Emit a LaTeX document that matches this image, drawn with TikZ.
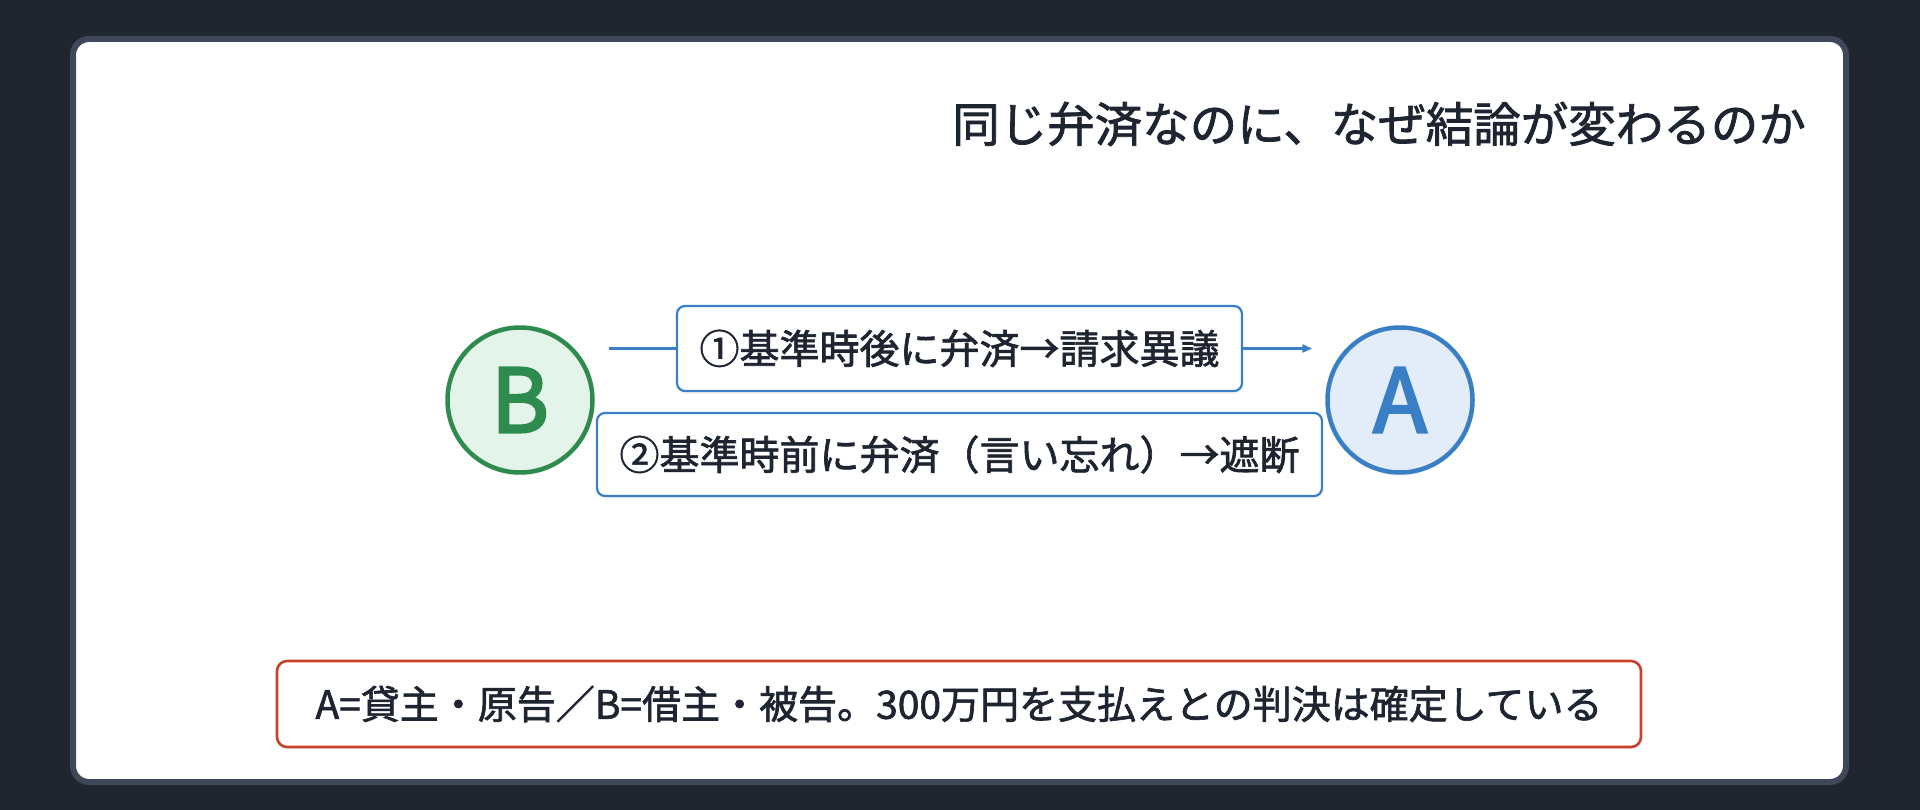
\documentclass[tikz,border=0pt]{standalone}
\usepackage{fontspec}
\setmainfont{Noto Sans CJK JP}
\newfontfamily\jp[FakeBold=1.6]{Noto Sans CJK JP}
\newfontfamily\letterfont[FakeBold=3]{Noto Sans CJK JP}
\usetikzlibrary{arrows.meta,shadows,backgrounds}
\definecolor{bgdark}{HTML}{1F2630}
\definecolor{cardborder}{HTML}{3E4858}
\definecolor{ink}{HTML}{1E2430}
\definecolor{blueA}{HTML}{3A7FC6}
\definecolor{bluefill}{HTML}{E3EDF9}
\definecolor{greenB}{HTML}{2E8B4E}
\definecolor{greenfill}{HTML}{E5F4EA}
\definecolor{redbox}{HTML}{C8412B}
\tikzset{
  party/.style={circle, line width=4.5pt, minimum size=145pt, inner sep=0pt,
    font=\letterfont\fontsize{88}{88}\selectfont,
    drop shadow={opacity=0.10, shadow xshift=0pt, shadow yshift=-3pt}},
  labelbox/.style={draw=blueA, line width=2.2pt, fill=white, rounded corners=8pt,
    inner sep=0pt, text=ink, font=\jp\fontsize{40}{40}\selectfont,
    drop shadow={opacity=0.08, shadow xshift=0pt, shadow yshift=-3pt}},
  notebox/.style={draw=redbox, line width=2.6pt, fill=white, rounded corners=10pt,
    inner sep=0pt, text=ink, font=\jp\fontsize{39}{39}\selectfont,
    drop shadow={opacity=0.08, shadow xshift=0pt, shadow yshift=-3pt}},
  flow/.style={draw=blueA, line width=3pt, -{Triangle[length=10pt,width=8pt]}},
}
\begin{document}
\begin{tikzpicture}[x=1pt,y=-1pt]
\fill[bgdark] (0,0) rectangle (1920,810);
\useasboundingbox (0,0) rectangle (1920,810);
\draw[cardborder, line width=6pt, fill=white, rounded corners=16pt] (73,39) rectangle (1846,782);

\node[anchor=east, inner sep=0pt, text=ink, font=\jp\fontsize{47.5}{47.5}\selectfont] (title) at (1806,124) {同じ弁済なのに、なぜ結論が変わるのか};

\node[party, draw=greenB, fill=greenfill, text=greenB] (B) at (520,400) {B};
\node[party, draw=blueA, fill=bluefill, text=blueA] (A) at (1400,400) {A};

\coordinate (lane) at (960,348.5);
\draw[flow] ([xshift=14pt]B.east |- lane) -- ([xshift=-13pt]A.west |- lane);

\node[labelbox, minimum width=565pt, minimum height=85pt] (s1) at (959.5,348.5) {①基準時後に弁済→請求異議};
\node[labelbox, minimum width=725pt, minimum height=83pt] (s2) at (959.5,454.5) {②基準時前に弁済（言い忘れ）→遮断};

\node[notebox, minimum width=1364pt, minimum height=86pt] (note) at (959,704) {A=貸主・原告／B=借主・被告。300万円を支払えとの判決は確定している};
\end{tikzpicture}
\end{document}
